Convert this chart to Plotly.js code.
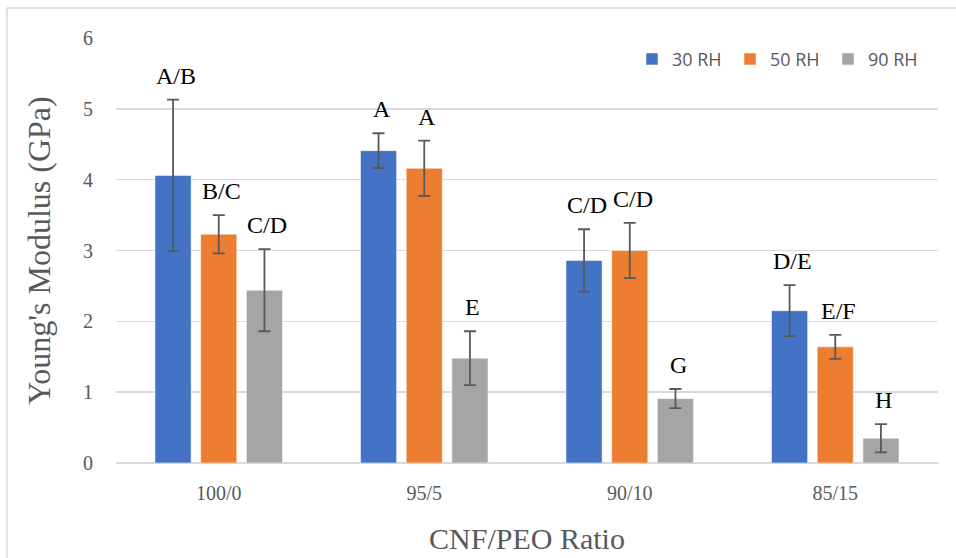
<!DOCTYPE html>
<html>
<head>
<meta charset="utf-8">
<script src="https://cdn.plot.ly/plotly-3.0.1.min.js"></script>
<style>html,body{margin:0;padding:0;background:#fff;}#chart{width:956px;height:558px;}</style>
</head>
<body>
<div id="chart"></div>
<script>
const categories = ["100/0", "95/5", "90/10", "85/15"];
const seriesNames = ["30 RH", "50 RH", "90 RH"];
const rh30 = [4.06, 4.41, 2.86, 2.15];
const rh50 = [3.23, 4.16, 3.00, 1.64];
const rh90 = [2.44, 1.48, 0.91, 0.35];
const err30 = [1.07, 0.245, 0.44, 0.36];
const err50 = [0.27, 0.39, 0.39, 0.17];
const err90 = [0.58, 0.38, 0.135, 0.20];
const labels30 = ["A/B", "A", "C/D", "D/E"];
const labels50 = ["B/C", "A", "C/D", "E/F"];
const labels90 = ["C/D", "E", "G", "H"];
const colors = ["#4472C4", "#ED7D31", "#A5A5A5"];

const values = [rh30, rh50, rh90];
const errs = [err30, err50, err90];
const labs = [labels30, labels50, labels90];

const margin = {l: 116, r: 18, t: 38, b: 95};
const plotW = 956 - margin.l - margin.r;
const plotH = 558 - margin.t - margin.b;
const bargap = 0.333;
const slot = plotW / categories.length * (1 - bargap) / 3;

const traces = values.map((v, i) => ({
  type: "bar",
  name: seriesNames[i],
  x: categories,
  y: v,
  marker: {color: colors[i], line: {color: "rgba(255,255,255,0.5)", width: 1}},
  error_y: {type: "data", array: errs[i], visible: true, color: "#595959", thickness: 1.8, width: 6},
  hoverinfo: "skip"
}));

const annotations = [];
values.forEach((v, i) => {
  v.forEach((val, j) => {
    annotations.push({
      x: categories[j], y: val + errs[i][j], xref: "x", yref: "y",
      text: labs[i][j], showarrow: false, yanchor: "bottom",
      xshift: (i - 1) * slot + 3, yshift: 9,
      font: {family: "Liberation Serif, Times New Roman, serif", size: 24, color: "#000"}
    });
  });
});

const layout = {
  width: 956, height: 558,
  margin: margin,
  paper_bgcolor: "#fff", plot_bgcolor: "#fff",
  barmode: "group", bargap: bargap, bargroupgap: 0.21,
  showlegend: true,
  legend: {
    orientation: "h", x: (632 - margin.l) / plotW, xanchor: "left", y: 0.95, yanchor: "middle",
    font: {family: "Open Sans, Liberation Sans, sans-serif", size: 18, color: "#595959"},
    entrywidth: 53, entrywidthmode: "pixels", itemwidth: 30, tracegroupgap: 0
  },
  xaxis: {
    type: "category",
    tickfont: {family: "Liberation Serif, Times New Roman, serif", size: 20, color: "#595959"},
    ticks: "outside", ticklen: 12, tickcolor: "rgba(0,0,0,0)",
    showline: false, showgrid: false, zeroline: false,
    title: {text: "CNF/PEO Ratio", font: {family: "Liberation Serif, Times New Roman, serif", size: 30, color: "#595959"}, standoff: 24}
  },
  yaxis: {
    range: [0, 6], dtick: 1, tick0: 0,
    tickfont: {family: "Liberation Serif, Times New Roman, serif", size: 20, color: "#595959"},
    ticks: "outside", ticklen: 18, tickcolor: "rgba(0,0,0,0)",
    showgrid: true, gridcolor: "#d9d9d9", gridwidth: 1.5,
    zeroline: true, zerolinecolor: "#d9d9d9", zerolinewidth: 2,
    showline: false,
    title: {text: "Young's Modulus (GPa)", font: {family: "Liberation Serif, Times New Roman, serif", size: 32, color: "#595959"}, standoff: 22}
  },
  annotations: annotations,
  shapes: [{
    type: "rect", xref: "paper", yref: "paper",
    x0: (7 - margin.l) / plotW, x1: (965 - margin.l) / plotW,
    y0: -0.25, y1: (463 - 8) / plotH,
    line: {color: "#d9d9d9", width: 1.5}, fillcolor: "rgba(0,0,0,0)", layer: "below"
  }]
};

Plotly.newPlot("chart", traces, layout, {displayModeBar: false, staticPlot: true});
</script>
</body>
</html>
